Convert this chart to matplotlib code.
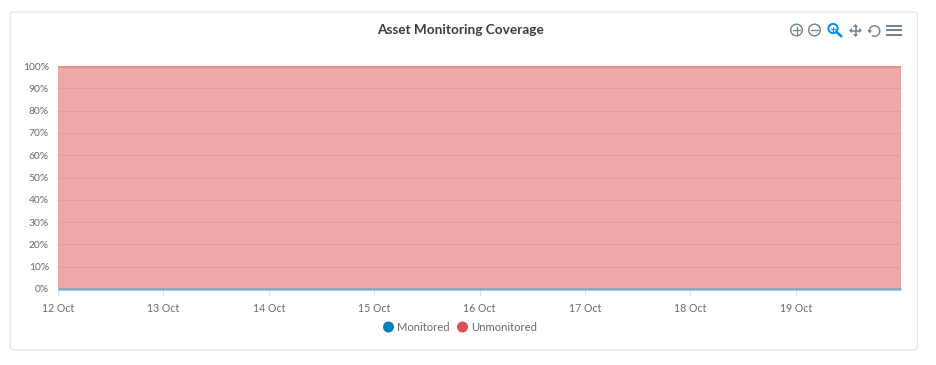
import datetime as dt
import matplotlib
matplotlib.use('Agg')
from matplotlib import pyplot as plt
from matplotlib import dates as mdates
from matplotlib.patches import Circle, FancyBboxPatch, Polygon, Arc

plt.rcParams['font.family'] = ['Lato', 'DejaVu Sans']

days = [dt.datetime(2023, 10, d) for d in range(12, 21)]
monitored = [0, 0, 0, 0, 0, 0, 0, 0, 0]
unmonitored = [100, 100, 100, 100, 100, 100, 100, 100, 100]
tick_days = days[:8]
tick_labels = ['12 Oct', '13 Oct', '14 Oct', '15 Oct', '16 Oct', '17 Oct', '18 Oct', '19 Oct']
y_ticks = [0, 10, 20, 30, 40, 50, 60, 70, 80, 90, 100]
series_names = ['Monitored', 'Unmonitored']

BLUE = '#0081b8'
RED = '#e05252'
TEXT = '#6a6a6a'
ICON = '#6e8192'

W, H = 936, 365
fig = plt.figure(figsize=(W / 100, H / 100), dpi=100, facecolor='white')

# overlay in pixel coords for card, title, legend, toolbar
bg = fig.add_axes([0, 0, 1, 1], zorder=0)
bg.set_xlim(0, W)
bg.set_ylim(H, 0)
bg.axis('off')
bg.add_patch(FancyBboxPatch((10, 12), 907.5, 338, boxstyle='round,pad=0,rounding_size=4',
                            fc='white', ec='#e4e4e4', lw=0.9))
bg.text(460, 30, 'Asset Monitoring Coverage', ha='center', va='center',
        fontsize=9.8, fontweight='bold', color='#373d3f')

ax = fig.add_axes([58 / W, 1 - 289 / H, 843 / W, 223 / H], zorder=1)
ax.patch.set_alpha(0)
ax.stackplot(days, monitored, unmonitored, colors=[BLUE, RED], alpha=0.5, lw=0, zorder=2)
ax.plot(days, monitored, color='#5f9fc0', alpha=0.8, lw=1.8, zorder=3, clip_on=False, solid_capstyle='butt')
ax.plot(days, [m + u for m, u in zip(monitored, unmonitored)], color=RED, alpha=0.25, lw=2.2,
        zorder=3, solid_capstyle='butt')
ax.set_xlim(days[0], days[-1])
ax.set_ylim(0, 100)
ax.set_yticks(y_ticks)
ax.set_yticklabels([f'{v}%' for v in y_ticks])
ax.set_xticks(mdates.date2num(tick_days))
ax.set_xticklabels(tick_labels)
ax.grid(axis='y', color='#e8e8e8', lw=0.8, zorder=1)
ax.set_axisbelow(True)
ax.tick_params(axis='y', length=0, pad=6.5, labelsize=7.4, labelcolor=TEXT)
ax.tick_params(axis='x', length=5, width=0.8, color='#e0e0e0', pad=5, labelsize=7.6, labelcolor=TEXT)
for s in ax.spines.values():
    s.set_visible(False)

# legend
fg = fig.add_axes([0, 0, 1, 1], zorder=2)
fg.set_xlim(0, W)
fg.set_ylim(H, 0)
fg.axis('off')
fg.patch.set_alpha(0)
fg.add_patch(Circle((388.5, 327), 5.5, fc=BLUE, ec='none'))
fg.text(397, 327.5, series_names[0], va='center', fontsize=8.1, color=TEXT)
fg.add_patch(Circle((462.5, 327), 5.5, fc=RED, ec='none'))
fg.text(471, 327.5, series_names[1], va='center', fontsize=8.1, color=TEXT)

# toolbar icons
fg.add_patch(Circle((796.5, 30), 5.8, fc='none', ec=ICON, lw=1.0))
fg.plot([793, 800], [30, 30], color=ICON, lw=0.9)
fg.plot([796.5, 796.5], [26.5, 33.5], color=ICON, lw=0.9)
fg.add_patch(Circle((814.5, 30), 5.8, fc='none', ec=ICON, lw=1.0))
fg.plot([811, 818], [30, 30], color=ICON, lw=0.9)
zoom = '#008ffb'
fg.add_patch(Circle((833, 28.5), 4.6, fc='none', ec=zoom, lw=1.4))
fg.plot([836.5, 841], [32, 36], color=zoom, lw=1.9)
fg.plot([831, 835], [28.5, 28.5], color=zoom, lw=0.8)
fg.plot([833, 833], [26.5, 30.5], color=zoom, lw=0.8)
fg.plot([851, 860], [30.5, 30.5], color=ICON, lw=1.1)
fg.plot([855.5, 855.5], [26, 35], color=ICON, lw=1.1)
for p in [[(853, 27), (858, 27), (855.5, 24)], [(853, 34), (858, 34), (855.5, 37)],
          [(852, 28), (852, 33), (849, 30.5)], [(859, 28), (859, 33), (862, 30.5)]]:
    fg.add_patch(Polygon(p, fc=ICON, ec='none'))
fg.add_patch(Arc((874.5, 31), 10.5, 10.5, theta1=-190, theta2=120, ec=ICON, lw=1.0))
fg.add_patch(Polygon([(867.5, 30), (872, 30), (869.8, 33.5)], fc=ICON, ec='none'))
for y in [25.5, 30, 34.5]:
    fg.plot([887, 901], [y, y], color=ICON, lw=1.4)

fig.savefig('out.png', dpi=100)
